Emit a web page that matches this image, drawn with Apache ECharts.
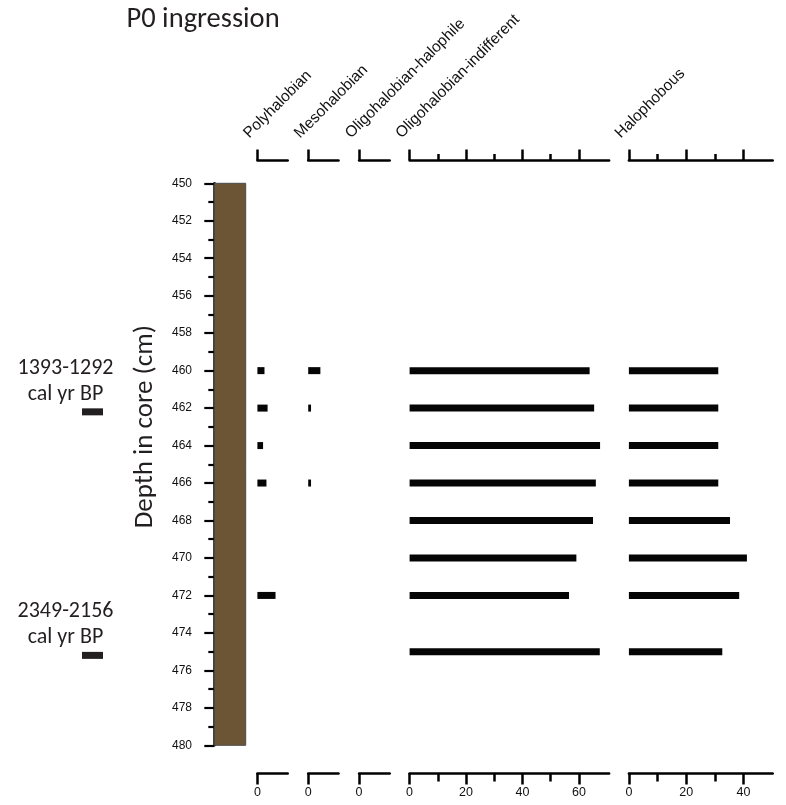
<!DOCTYPE html>
<html><head><meta charset="utf-8">
<script src="https://cdn.jsdelivr.net/npm/echarts@6/dist/echarts.min.js"></script>
<style>html,body{margin:0;padding:0;background:#fff}#c{width:786px;height:805px}</style>
</head><body><div id="c"></div>
<script>
// ---------------- data ----------------
const depths       = [460, 462, 464, 466, 468, 470, 472, 475];
const polyhalobian = [2.5, 3.6, 2.0, 3.2, 0, 0, 6.4, 0];
const mesohalobian = [4.3, 1.0, 0, 1.0, 0, 0, 0, 0];
const halophile    = [0, 0, 0, 0, 0, 0, 0, 0];
const indifferent  = [63.8, 65.4, 67.5, 66.0, 65.0, 59.1, 56.5, 67.4];
const halophobous  = [31.2, 31.2, 31.2, 31.2, 35.3, 41.2, 38.5, 32.6];
const panelNames   = ['Polyhalobian', 'Mesohalobian', 'Oligohalobian-halophile', 'Oligohalobian-indifferent', 'Halophobous'];
const majorTicks   = [[0], [0], [0], [0, 20, 40, 60], [0, 20, 40]];
const minorTicks   = [[], [], [], [10, 30, 50], [10, 30]];
const depthRange   = [450, 480];           // depth axis range (cm)
const coreInterval = [450, 480];           // sediment core column
const dateLabels   = ['1393-1292', '2349-2156'];
const dateUnit     = 'cal yr BP';
const dateDepths   = [462.2, 475.2];
const titleText    = 'P0 ingression';
const depthName    = 'Depth in core (cm)';

// ---------------- layout ----------------
const TOP = 183.3, H = 562;
const TOP_AXIS_Y = 160, BOTTOM_AXIS_Y = 773;
const panels = [
  {left: 257.4, width: 30.3,  max: 10.7},
  {left: 308.2, width: 30.3,  max: 10.7},
  {left: 359.1, width: 30.6,  max: 10.8},
  {left: 409.6, width: 199.5, max: 70.7},
  {left: 628.9, width: 143.8, max: 50.2}
];
const panelData = [polyhalobian, mesohalobian, halophile, indifferent, halophobous];
const BAR_H = 7;
const AX = {color: '#000', width: 2.5};
const sans = "'Liberation Sans', Arial, sans-serif";
const human = "Carlito, Calibri, 'Open Sans', sans-serif";

const grid = [], xAxis = [], yAxis = [], series = [], graphic = [];

// core grid (0)
grid.push({left: 214.3, top: TOP, width: 31.4, height: H});
xAxis.push({type: 'value', gridIndex: 0, min: 0, max: 1, show: false});
yAxis.push({
  type: 'value', gridIndex: 0, min: depthRange[0], max: depthRange[1], inverse: true,
  interval: 2, offset: 7.8, position: 'left',
  axisLine: {show: true, lineStyle: {color: '#000', width: 2.5}},
  axisTick: {show: true, length: 10, lineStyle: {color: '#000', width: 2.2}},
  minorTick: {show: true, splitNumber: 2, length: 6, lineStyle: {color: '#000', width: 2.2}},
  axisLabel: {show: true, margin: 14.5, fontSize: 12, color: '#111', fontFamily: sans},
  splitLine: {show: false}, minorSplitLine: {show: false}
});
series.push({
  type: 'custom', xAxisIndex: 0, yAxisIndex: 0, silent: true,
  data: [coreInterval],
  encode: {y: [0, 1]},
  renderItem(params, api) {
    const a = api.coord([0, api.value(0)]);
    const b = api.coord([1, api.value(1)]);
    return {type: 'rect', shape: {x: a[0], y: a[1], width: b[0] - a[0], height: b[1] - a[1]},
      style: {fill: '#6b5535', stroke: '#4a4a4a', lineWidth: 1}};
  }
});

// dates grid (1)
grid.push({left: 82, top: TOP, width: 21, height: H});
xAxis.push({type: 'value', gridIndex: 1, min: 0, max: 1, show: false});
yAxis.push({type: 'value', gridIndex: 1, min: depthRange[0], max: depthRange[1], inverse: true, show: false});
series.push({
  type: 'custom', xAxisIndex: 1, yAxisIndex: 1, silent: true,
  data: dateDepths.map((d, i) => [d, i]),
  encode: {y: 0},
  renderItem(params, api) {
    const a = api.coord([0, api.value(0)]);
    const b = api.coord([1, api.value(0)]);
    const top = a[1] - BAR_H / 2;
    const cx = 65.5;
    const fs = 22;
    return {type: 'group', children: [
      {type: 'rect', shape: {x: a[0], y: top, width: b[0] - a[0], height: BAR_H}, style: {fill: '#231f20'}},
      {type: 'text', x: cx, y: top - 34 - 0.285 * fs,
        style: {text: dateLabels[api.value(1)], fill: '#231f20', font: fs + 'px ' + human, align: 'center', verticalAlign: 'middle'}},
      {type: 'text', x: cx, y: top - 8 - 0.285 * fs,
        style: {text: dateUnit, fill: '#231f20', font: fs + 'px ' + human, align: 'center', verticalAlign: 'middle'}}
    ]};
  }
});

// panels
panels.forEach((p, k) => {
  const gi = grid.length;
  grid.push({left: p.left, top: TOP, width: p.width, height: H});
  yAxis.push({type: 'value', gridIndex: gi, min: depthRange[0], max: depthRange[1], inverse: true, show: false});
  const base = {type: 'value', gridIndex: gi, min: 0, max: p.max, splitLine: {show: false}};
  const topOff = TOP - TOP_AXIS_Y, botOff = BOTTOM_AXIS_Y - (TOP + H);
  xAxis.push(Object.assign({}, base, {
    position: 'top', offset: topOff,
    axisLine: {show: true, onZero: false, lineStyle: AX},
    axisTick: {show: true, length: 10.5, customValues: majorTicks[k], lineStyle: AX},
    axisLabel: {show: false}
  }));
  if (minorTicks[k].length) xAxis.push(Object.assign({}, base, {
    position: 'top', offset: topOff,
    axisLine: {show: false, onZero: false},
    axisTick: {show: true, length: 6, customValues: minorTicks[k], lineStyle: AX},
    axisLabel: {show: false}
  }));
  const xi = xAxis.length;
  xAxis.push(Object.assign({}, base, {
    position: 'bottom', offset: botOff,
    axisLine: {show: true, onZero: false, lineStyle: AX},
    axisTick: {show: true, length: 11.5, customValues: majorTicks[k], lineStyle: AX},
    axisLabel: {show: true, customValues: majorTicks[k], margin: 13, fontSize: 12.5, color: '#111', fontFamily: sans}
  }));
  if (minorTicks[k].length) xAxis.push(Object.assign({}, base, {
    position: 'bottom', offset: botOff,
    axisLine: {show: false, onZero: false},
    axisTick: {show: true, length: 8.5, customValues: minorTicks[k], lineStyle: AX},
    axisLabel: {show: false}
  }));
  const vals = panelData[k];
  series.push({
    type: 'custom', xAxisIndex: xi, yAxisIndex: gi, silent: true,
    data: depths.map((d, i) => [vals[i], d]),
    encode: {x: 0, y: 1},
    renderItem(params, api) {
      const v = api.value(0), d = api.value(1);
      if (!v) return null;
      const a = api.coord([0, d]);
      const b = api.coord([v, d]);
      return {type: 'rect', shape: {x: a[0], y: a[1] - BAR_H / 2, width: b[0] - a[0], height: BAR_H},
        style: {fill: '#050505'}};
    }
  });
  graphic.push({
    type: 'text', x: p.left - 5.5, y: 141.5, rotation: Math.PI / 4,
    style: {text: panelNames[k], font: '15.5px ' + sans, fill: '#111', align: 'left', verticalAlign: 'bottom'}
  });
});

// title and depth axis name
graphic.push({type: 'text', x: 126.5, y: 28 - 0.285 * 28.5,
  style: {text: titleText, font: '28.5px ' + human, fill: '#231f20', align: 'left', verticalAlign: 'middle'}});
graphic.push({type: 'text', x: 153.3 - 0.285 * 27, y: 426.7, rotation: Math.PI / 2,
  style: {text: depthName, font: '27px ' + human, fill: '#231f20', align: 'center', verticalAlign: 'middle'}});

const chart = echarts.init(document.getElementById('c'), null, {renderer: 'canvas'});
chart.setOption({animation: false, backgroundColor: '#fff', grid, xAxis, yAxis, series, graphic});
</script>
</body></html>
